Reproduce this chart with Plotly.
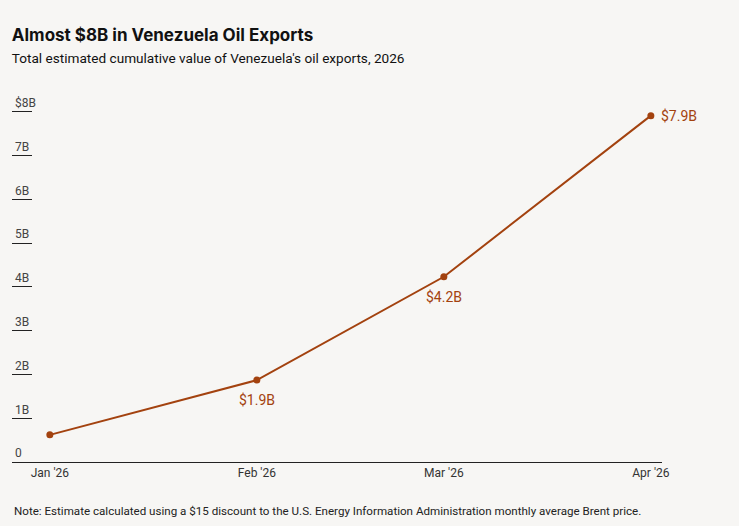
import plotly.graph_objects as go

# Data
months = ['2026-01-01', '2026-02-01', '2026-03-01', '2026-04-01']
export_value = [0.62, 1.87, 4.23, 7.91]  # billions USD, cumulative
point_labels = ['', '$1.9B', '$4.2B', '$7.9B']

y_ticks = [0, 1, 2, 3, 4, 5, 6, 7, 8]
y_tick_text = ['0', '1B', '2B', '3B', '4B', '5B', '6B', '7B', '$8B']

line_color = '#a3420f'
bg = '#f7f6f4'

fig = go.Figure()
fig.add_trace(
    go.Scatter(
        x=months,
        y=export_value,
        mode='lines+markers',
        line=dict(color=line_color, width=2),
        marker=dict(color=line_color, size=7),
        cliponaxis=False,
        hoverinfo='skip',
    )
)

# value labels: last one sits to the right of its point, others below
for i, (m, v, lab) in enumerate(zip(months, export_value, point_labels)):
    if not lab:
        continue
    last = i == len(months) - 1
    fig.add_annotation(
        x=m, y=v, text=lab, showarrow=False,
        xanchor='left' if last else 'center',
        yanchor='middle',
        xshift=8 if last else 0,
        yshift=0 if last else -20,
        font=dict(family='Roboto', size=14, color=line_color),
    )

fig.update_layout(
    width=739,
    height=526,
    paper_bgcolor=bg,
    plot_bgcolor=bg,
    showlegend=False,
    margin=dict(l=12, r=77, t=92, b=64),
    font=dict(family='Roboto', color='#333333'),
    title=dict(
        text="<b>Almost $8B in Venezuela Oil Exports</b><br>"
             "<span style='font-size:13.6px;font-family:Roboto;'>Total estimated cumulative value of Venezuela's oil exports, 2026</span>",
        x=0.016, xanchor='left', y=0.923, yanchor='top',
        font=dict(family='Inter', size=17, color='#111111'),
    ),
    xaxis=dict(
        type='date',
        range=['2025-12-26 08:00', '2026-04-02 16:00'],
        tickvals=months,
        tickformat="%b '%y",
        showgrid=False,
        zeroline=False,
        showline=True,
        linecolor='#222222',
        linewidth=1,
        ticks='',
        tickfont=dict(family='Roboto', size=12, color='#333333'),
    ),
    yaxis=dict(
        range=[0, 8.45],
        tickvals=y_ticks,
        ticktext=y_tick_text,
        showgrid=False,
        zeroline=False,
        showline=False,
        ticks='inside',
        ticklen=20,
        tickwidth=1,
        tickcolor='#222222',
        ticklabelposition='inside top',
        tickfont=dict(family='Roboto', size=12, color='#444444'),
    ),
)

fig.add_annotation(
    text='Note: Estimate calculated using a $15 discount to the U.S. Energy Information Administration monthly average Brent price.',
    xref='paper', yref='paper', x=0, y=-0.133, xanchor='left', yanchor='middle',
    showarrow=False, font=dict(family='Roboto', size=11.6, color='#222222'),
)

fig.write_html('out.html', config={'displayModeBar': False},
               post_script="document.body.style.margin='0';")
